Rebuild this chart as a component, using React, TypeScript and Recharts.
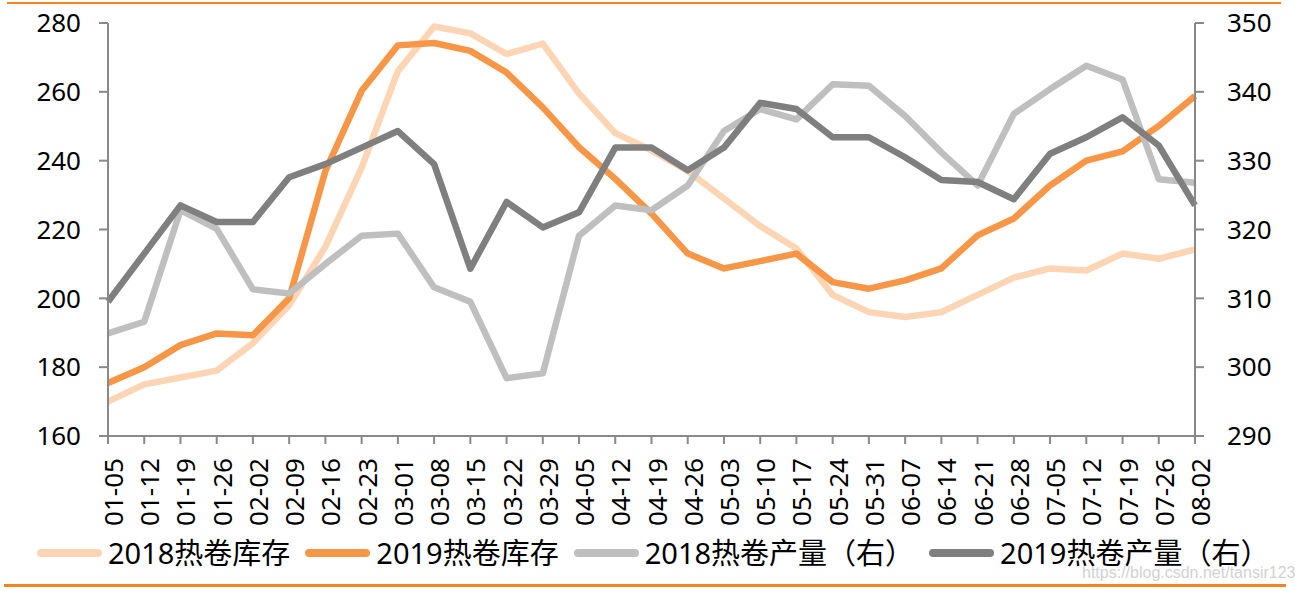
import { LineChart, Line, XAxis, YAxis } from "recharts";

const weeks = [
  "01-05", "01-12", "01-19", "01-26", "02-02", "02-09", "02-16", "02-23",
  "03-01", "03-08", "03-15", "03-22", "03-29", "04-05", "04-12", "04-19",
  "04-26", "05-03", "05-10", "05-17", "05-24", "05-31", "06-07", "06-14",
  "06-21", "06-28", "07-05", "07-12", "07-19", "07-26", "08-02",
];

// 库存 (left axis)
const inv2018 = [
  170, 175, 177, 179, 187, 198, 215, 238, 266, 279, 277, 271, 274, 259.5, 248, 243,
  237, 229, 221, 214.5, 201, 196, 194.6, 196, 201, 206, 208.7, 208.1, 213, 211.5, 214.2,
];
const inv2019 = [
  175.4, 180, 186.4, 189.8, 189.3, 200, 237, 260.3, 273.5, 274.2, 271.9, 265.6, 255.5, 243.9, 234.7, 224.6,
  213, 208.7, 210.8, 213, 204.7, 202.8, 205.2, 208.7, 218.3, 223.2, 232.8, 240, 242.7, 250.1, 258.8,
];

// 产量 (right axis)
const out2018 = [
  304.9, 306.6, 322.8, 320.1, 311.3, 310.7, 315, 319.1, 319.4, 311.6, 309.5, 298.4, 299.1, 319.1, 323.5, 322.8,
  326.4, 334.3, 337.5, 336, 341.1, 340.9, 336.5, 331.2, 326.4, 336.8, 340.4, 343.8, 341.8, 327.3, 326.8,
];
const out2019 = [
  309.5, 316.5, 323.5, 321.1, 321.1, 327.6, 329.5, 331.9, 334.3, 329.5, 314.3, 324, 320.3, 322.5, 331.9, 331.9,
  328.6, 331.9, 338.4, 337.5, 333.4, 333.4, 330.5, 327.2, 326.9, 324.4, 331, 333.4, 336.3, 332.2, 323.5,
];

const leftTicks = [160, 180, 200, 220, 240, 260, 280];
const rightTicks = [290, 300, 310, 320, 330, 340, 350];

const series = [
  { key: "inv2018", name: "2018热卷库存", color: "#FCD5B4", axis: "left" },
  { key: "inv2019", name: "2019热卷库存", color: "#F79646", axis: "left" },
  { key: "out2018", name: "2018热卷产量（右）", color: "#BFBFBF", axis: "right" },
  { key: "out2019", name: "2019热卷产量（右）", color: "#7F7F7F", axis: "right" },
];

const data = weeks.map((w, i) => ({
  week: w,
  inv2018: inv2018[i],
  inv2019: inv2019[i],
  out2018: out2018[i],
  out2019: out2019[i],
}));

const axisColor = "#898989";
const tickFont = { fontSize: 26, fontFamily: "Noto Sans", fill: "#000" };

// rotated week labels, read bottom to top
function WeekTick({ x, y, payload }: any) {
  return (
    <text
      x={0}
      y={0}
      transform={`translate(${x + 5},${y + 12}) rotate(-90)`}
      textAnchor="end"
      dominantBaseline="central"
      {...tickFont}
    >
      {payload.value}
    </text>
  );
}

export default function App() {
  return (
    <div style={{ position: "absolute", left: 0, top: 0, width: 1302, height: 591, background: "#fff" }}>
      <div style={{ position: "absolute", left: 7, top: 2, width: 1274, height: 2, background: "#F5841F" }} />

      <LineChart width={1302} height={530} data={data} margin={{ top: 23, right: 0, left: 0, bottom: 0 }}>
        <XAxis
          dataKey="week"
          interval={0}
          height={94}
          tickSize={8}
          tick={<WeekTick />}
          axisLine={{ stroke: axisColor, strokeWidth: 2 }}
          tickLine={{ stroke: axisColor, strokeWidth: 2 }}
        />
        <YAxis
          yAxisId="left"
          width={108}
          domain={[160, 280]}
          ticks={leftTicks}
          tickSize={9}
          tickMargin={18}
          tick={tickFont}
          axisLine={{ stroke: axisColor, strokeWidth: 2 }}
          tickLine={{ stroke: axisColor, strokeWidth: 2 }}
        />
        <YAxis
          yAxisId="right"
          orientation="right"
          width={107}
          domain={[290, 350]}
          ticks={rightTicks}
          tickSize={9}
          tickMargin={23}
          tick={{ ...tickFont, textAnchor: "start" }}
          axisLine={{ stroke: axisColor, strokeWidth: 2 }}
          tickLine={{ stroke: axisColor, strokeWidth: 2 }}
        />
        {series.map((s) => (
          <Line
            key={s.key}
            yAxisId={s.axis}
            dataKey={s.key}
            name={s.name}
            stroke={s.color}
            strokeWidth={6.5}
            strokeLinejoin="round"
            dot={false}
            activeDot={false}
            type="linear"
            isAnimationActive={false}
          />
        ))}
      </LineChart>

      {/* legend */}
      <div
        style={{
          position: "absolute",
          left: 37,
          top: 537,
          height: 32,
          display: "flex",
          alignItems: "center",
          gap: 15,
          fontFamily: "'Noto Sans', 'Noto Sans CJK SC'",
          fontSize: 29,
          color: "#000",
          whiteSpace: "nowrap",
        }}
      >
        {series.map((s) => (
          <div key={s.key} style={{ display: "flex", alignItems: "center" }}>
            <span style={{ width: 65, height: 8, borderRadius: 4, background: s.color, marginRight: 6 }} />
            <span style={{ lineHeight: "32px" }}>{s.name}</span>
          </div>
        ))}
      </div>

      <div
        style={{
          position: "absolute",
          left: 1082,
          top: 564,
          fontFamily: "'Liberation Sans'",
          fontSize: 16,
          color: "#d2d2d2",
          whiteSpace: "nowrap",
        }}
      >
        https://blog.csdn.net/tansir123
      </div>

      <div style={{ position: "absolute", left: 4, top: 584, width: 1282, height: 3, background: "#F5841F" }} />
    </div>
  );
}
